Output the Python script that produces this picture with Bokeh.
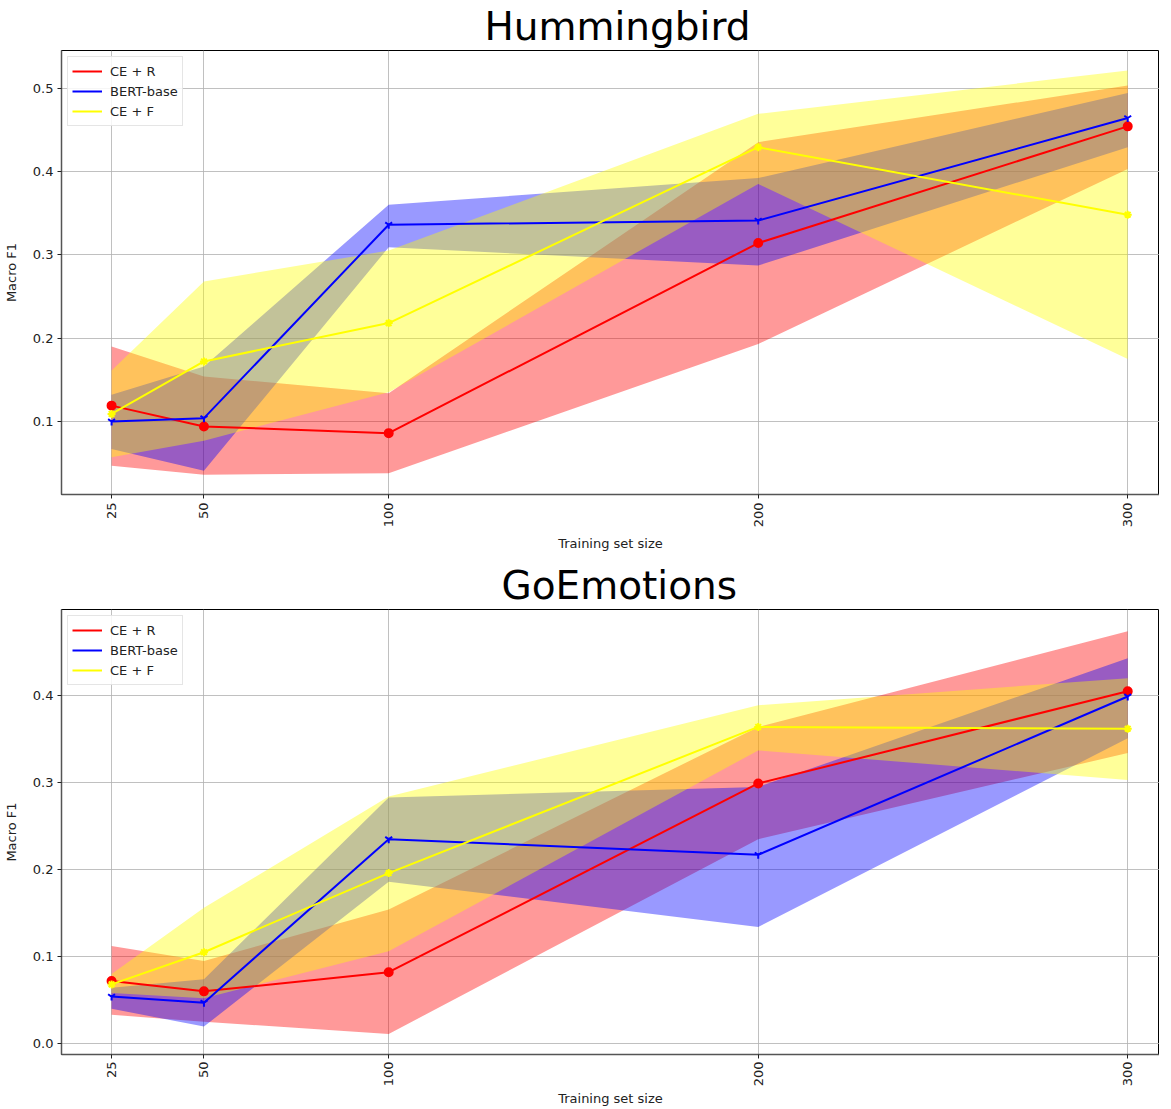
import math
from bokeh.plotting import figure
from bokeh.models import Range1d, FixedTicker, PrintfTickFormatter, Legend, LegendItem
from bokeh.layouts import column
from bokeh.embed import file_html
from bokeh.resources import INLINE

# ---------------- data ----------------
sizes = [25, 50, 100, 200, 300]
x_ticks = [25, 50, 100, 200, 300]
series_names = ["CE + R", "BERT-base", "CE + F"]
series_colors = ["#ff0000", "#0000ff", "#ffff00"]
series_markers = ["circle", "y", "asterisk"]

# Hummingbird
hb_ce_r_mean = [0.119, 0.094, 0.086, 0.314, 0.454]
hb_ce_r_low = [0.047, 0.036, 0.038, 0.193, 0.403]
hb_ce_r_high = [0.190, 0.154, 0.134, 0.435, 0.503]
hb_bert_mean = [0.100, 0.104, 0.336, 0.341, 0.464]
hb_bert_low = [0.067, 0.041, 0.309, 0.287, 0.429]
hb_bert_high = [0.132, 0.166, 0.360, 0.392, 0.494]
hb_ce_f_mean = [0.109, 0.172, 0.218, 0.429, 0.348]
hb_ce_f_low = [0.057, 0.077, 0.135, 0.385, 0.175]
hb_ce_f_high = [0.161, 0.268, 0.305, 0.469, 0.521]
hb_yticks = [0.1, 0.2, 0.3, 0.4, 0.5]

# GoEmotions
ge_ce_r_mean = [0.072, 0.060, 0.082, 0.299, 0.405]
ge_ce_r_low = [0.033, 0.025, 0.011, 0.235, 0.334]
ge_ce_r_high = [0.112, 0.095, 0.154, 0.364, 0.474]
ge_bert_mean = [0.054, 0.047, 0.235, 0.217, 0.399]
ge_bert_low = [0.040, 0.0195, 0.186, 0.134, 0.351]
ge_bert_high = [0.064, 0.074, 0.283, 0.295, 0.443]
ge_ce_f_mean = [0.068, 0.105, 0.196, 0.364, 0.362]
ge_ce_f_low = [0.058, 0.052, 0.106, 0.337, 0.303]
ge_ce_f_high = [0.080, 0.156, 0.284, 0.389, 0.420]
ge_yticks = [0.0, 0.1, 0.2, 0.3, 0.4]


def make_panel(title, title_offset, y_range, yticks, means, lows, highs, frame_h,
               border_bottom, xlab_standoff, xaxis_label_standoff):
    p = figure(frame_width=1098, frame_height=frame_h,
               output_backend="svg", toolbar_location=None,
               x_range=Range1d(11.45, 308.6), y_range=Range1d(*y_range),
               min_border_left=57, min_border_right=0, min_border_top=0,
               min_border_bottom=border_bottom)
    p.title.text = title
    p.title.align = "left"
    p.title.offset = title_offset
    p.title.text_font = "DejaVu Sans"
    p.title.text_font_size = "39px"
    p.title.text_font_style = "normal"
    p.title.text_color = "#000000"
    p.title.standoff = 3

    p.outline_line_color = "#000000"
    p.outline_line_width = 1
    p.background_fill_color = "#ffffff"

    for col, lo, hi in zip(series_colors, lows, highs):
        p.varea(x=sizes, y1=lo, y2=hi, fill_color=col, fill_alpha=0.4)

    items = []
    for name, col, mk, m in zip(series_names, series_colors, series_markers, means):
        r = p.line(sizes, m, line_color=col, line_width=2)
        p.scatter(sizes, m, marker=mk, size=8, color=col, line_width=2)
        items.append(LegendItem(label=name, renderers=[r]))

    leg = Legend(items=items, location="top_left")
    leg.label_text_font = "DejaVu Sans"
    leg.label_text_font_size = "13px"
    leg.label_text_color = "#222222"
    leg.glyph_width = 30
    leg.glyph_height = 20
    leg.label_height = 20
    leg.label_standoff = 8
    leg.spacing = 0
    leg.padding = 4
    leg.margin = 6
    leg.border_line_color = "#cccccc"
    leg.border_line_width = 1
    leg.background_fill_alpha = 0.85
    p.add_layout(leg)

    p.xaxis.ticker = FixedTicker(ticks=x_ticks)
    p.yaxis.ticker = FixedTicker(ticks=yticks)
    p.yaxis.formatter = PrintfTickFormatter(format="%.1f")
    p.xaxis.major_label_orientation = math.pi / 2
    p.xaxis.axis_label = "Training set size"
    p.yaxis.axis_label = "Macro F1"
    for ax in (p.xaxis, p.yaxis):
        ax.axis_label_text_font = "DejaVu Sans"
        ax.axis_label_text_font_size = "13px"
        ax.axis_label_text_font_style = "normal"
        ax.axis_label_text_color = "#222222"
        ax.major_label_text_font = "DejaVu Sans"
        ax.major_label_text_font_size = "13px"
        ax.major_label_text_color = "#222222"
        ax.axis_line_color = "#555555"
        ax.axis_line_width = 1.5
        ax.major_tick_line_color = "#222222"
        ax.major_tick_out = 4
        ax.major_tick_in = 0
        ax.minor_tick_line_color = None
    p.yaxis.major_label_standoff = 4
    p.yaxis.axis_label_standoff = 11
    p.xaxis.major_label_standoff = xlab_standoff
    p.xaxis.axis_label_standoff = xaxis_label_standoff

    p.xgrid.ticker = FixedTicker(ticks=x_ticks)
    p.ygrid.ticker = FixedTicker(ticks=yticks)
    for g in (p.xgrid, p.ygrid):
        g.grid_line_color = "#b0b0b0"
        g.grid_line_alpha = 0.8
        g.grid_line_width = 1
    return p


p1 = make_panel("Hummingbird", 423, (0.0124, 0.545), hb_yticks,
                [hb_ce_r_mean, hb_bert_mean, hb_ce_f_mean],
                [hb_ce_r_low, hb_bert_low, hb_ce_f_low],
                [hb_ce_r_high, hb_bert_high, hb_ce_f_high], 444, 65, 4, 6)
p2 = make_panel("GoEmotions", 440, (-0.0126, 0.499), ge_yticks,
                [ge_ce_r_mean, ge_bert_mean, ge_ce_f_mean],
                [ge_ce_r_low, ge_bert_low, ge_ce_f_low],
                [ge_ce_r_high, ge_bert_high, ge_ce_f_high], 445, 0, 3, 2)

layout = column(p1, p2, spacing=0)
open("out.html", "w").write(file_html(layout, INLINE))
